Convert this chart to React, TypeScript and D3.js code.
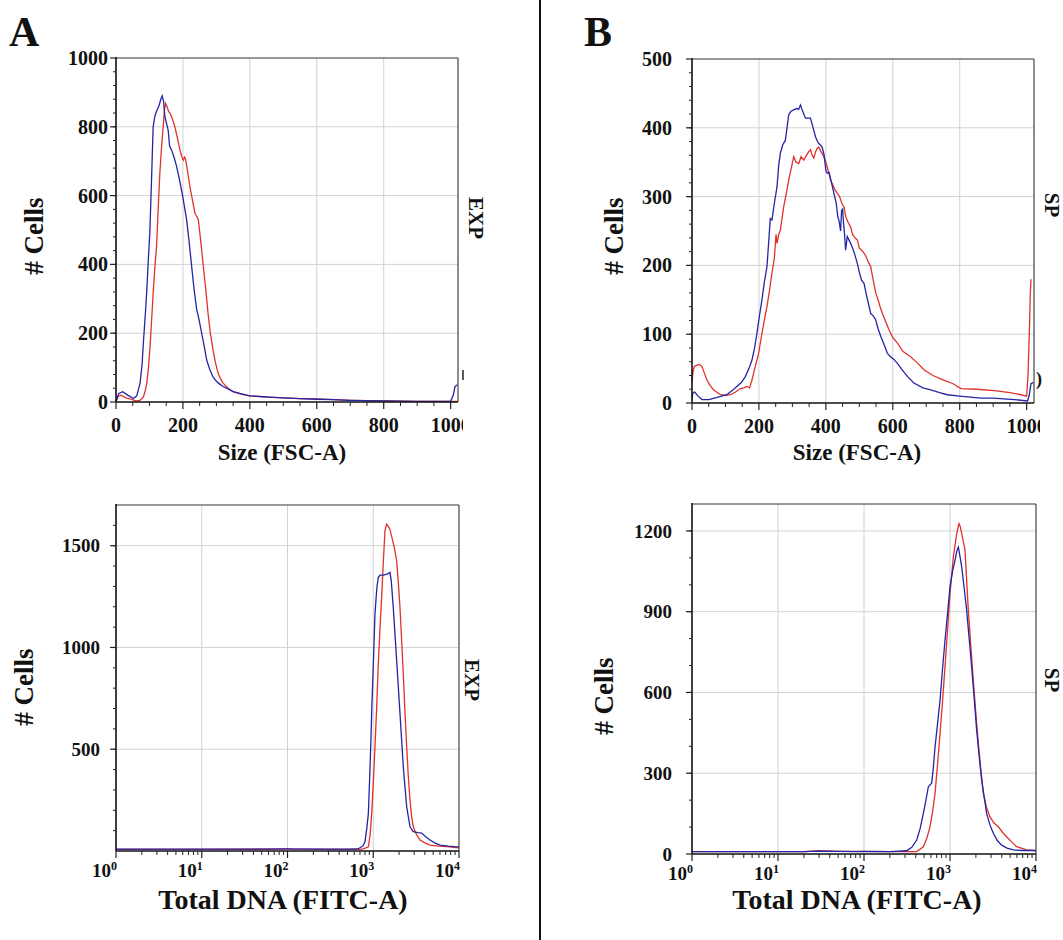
import React from "react";
import * as d3 from "d3";

// ---------- data ----------
type Pt = [number, number];

const sizeTicks = [0, 200, 400, 600, 800, 1000];
const sizeTickLabels = ["0", "200", "400", "600", "800", "1000"];
const logTicks = [1, 10, 100, 1000, 10000];
const logTickExp = ["0", "1", "2", "3", "4"];

const yTicksSizeA = [0, 200, 400, 600, 800, 1000];
const yTicksSizeB = [0, 100, 200, 300, 400, 500];
const yTicksDnaA = [500, 1000, 1500];
const yGridDnaA = [500, 1000, 1500];
const yTicksDnaB = [0, 300, 600, 900, 1200];

const expSizeBlue: Pt[] = [
  [0, 2], [8, 25], [20, 30], [35, 20], [52, 10], [62, 18], [72, 55], [78, 110], [82, 175], [88, 260],
  [92, 325], [97, 420], [101, 490], [106, 640], [111, 800], [116, 830], [121, 845], [128, 860], [134, 880],
  [138, 890], [142, 875], [146, 830], [151, 810], [156, 790], [160, 745], [167, 730], [174, 710], [181, 685],
  [190, 645], [199, 600], [205, 565], [211, 530], [218, 470], [226, 395], [233, 330], [241, 270], [248, 240],
  [256, 200], [263, 165], [271, 122], [280, 95], [290, 73], [300, 60], [310, 52], [320, 45], [335, 38],
  [350, 30], [370, 25], [400, 18], [430, 16], [460, 14], [500, 12], [550, 10], [600, 8], [650, 7], [700, 5],
  [750, 4], [800, 3], [900, 2], [1000, 2], [1008, 20], [1013, 45], [1020, 50],
];
const expSizeRed: Pt[] = [
  [0, 2], [8, 18], [15, 20], [30, 12], [45, 8], [60, 3], [72, 5], [82, 15], [88, 35], [92, 55], [97, 100],
  [101, 150], [106, 230], [111, 316], [116, 390], [121, 450], [126, 560], [131, 665], [136, 740], [141, 800],
  [145, 850], [148, 868], [152, 860], [157, 845], [161, 840], [168, 825], [176, 800], [183, 770], [191, 733],
  [196, 715], [201, 703], [205, 712], [208, 705], [214, 670], [221, 625], [228, 590], [236, 548], [241, 540],
  [246, 530], [253, 470], [261, 393], [268, 330], [275, 258], [282, 200], [290, 151], [297, 115], [305, 84],
  [312, 68], [320, 55], [335, 40], [350, 30], [375, 22], [400, 18], [450, 14], [500, 12], [550, 10], [600, 9],
  [650, 7], [700, 5], [800, 3], [900, 2], [1000, 2], [1020, 2],
];
const spSizeBlue: Pt[] = [
  [0, 8], [3, 15], [8, 16], [18, 10], [30, 5], [50, 5], [75, 8], [104, 12], [120, 18], [134, 24], [148, 30],
  [159, 38], [170, 50], [179, 62], [187, 80], [194, 101], [201, 125], [209, 150], [216, 175], [224, 198],
  [230, 240], [234, 268], [239, 266], [246, 290], [254, 314], [259, 345], [264, 363], [271, 375], [279, 382],
  [284, 400], [289, 419], [296, 424], [304, 426], [312, 428], [319, 427], [324, 433], [330, 425], [339, 414],
  [347, 414], [354, 414], [362, 400], [369, 387], [375, 380], [379, 377], [384, 375], [389, 372], [395, 360],
  [400, 338], [404, 334], [410, 335], [417, 320], [424, 305], [431, 290], [436, 270], [439, 266], [444, 250],
  [447, 280], [450, 282], [453, 260], [456, 245], [459, 222], [464, 242], [470, 236], [474, 232], [480, 225],
  [487, 215], [494, 203], [500, 190], [507, 178], [514, 174], [520, 160], [527, 145], [534, 130], [541, 127],
  [549, 121], [556, 108], [564, 97], [574, 85], [584, 72], [594, 67], [604, 63], [615, 57], [628, 48],
  [645, 38], [663, 29], [690, 22], [713, 19], [740, 15], [763, 12], [800, 10], [863, 7], [900, 7], [963, 5],
  [1003, 3], [1008, 12], [1013, 28], [1020, 30],
];
const spSizeRed: Pt[] = [
  [0, 31], [3, 45], [7, 53], [15, 55], [22, 56], [30, 53], [38, 42], [45, 33], [55, 25], [65, 19], [85, 12],
  [100, 11], [115, 12], [130, 16], [145, 21], [155, 22], [164, 24], [172, 22], [179, 33], [189, 53], [199, 72],
  [209, 101], [216, 120], [224, 140], [232, 165], [239, 189], [246, 210], [251, 245], [254, 232], [259, 245],
  [264, 251], [269, 268], [274, 285], [282, 305], [289, 324], [296, 340], [304, 358], [311, 350], [319, 348],
  [326, 358], [334, 353], [342, 360], [350, 366], [354, 368], [359, 360], [364, 356], [369, 365], [374, 370],
  [379, 372], [386, 365], [394, 358], [400, 350], [407, 338], [414, 324], [420, 318], [427, 310], [434, 305],
  [441, 300], [448, 290], [454, 285], [460, 270], [467, 262], [474, 256], [480, 245], [487, 240], [494, 237],
  [500, 225], [507, 222], [514, 218], [520, 213], [527, 205], [534, 198], [541, 180], [549, 160], [556, 150],
  [562, 140], [569, 130], [579, 118], [589, 106], [600, 95], [614, 87], [630, 75], [654, 67], [674, 58],
  [694, 48], [720, 40], [754, 33], [780, 28], [804, 21], [850, 20], [904, 18], [950, 15], [983, 12],
  [1000, 10], [1004, 40], [1008, 100], [1011, 160], [1013, 180],
];
const expDnaBlue: Pt[] = [
  [1, 9], [10, 9], [100, 10], [300, 9], [500, 9], [663, 10], [760, 25], [802, 46], [840, 110], [877, 185],
  [905, 340], [934, 511], [965, 720], [1000, 903], [1047, 1165], [1100, 1290], [1145, 1345], [1198, 1355],
  [1310, 1355], [1450, 1360], [1566, 1369], [1620, 1330], [1712, 1197], [1875, 936], [2050, 676], [2240, 413],
  [2455, 217], [2684, 119], [2933, 95], [3300, 90], [3672, 88], [4100, 70], [4590, 54], [5200, 40], [6000, 29],
  [7500, 24], [8970, 21], [10000, 20],
];
const expDnaRed: Pt[] = [
  [1, 8], [10, 8], [90, 9], [100, 12], [110, 9], [300, 8], [700, 8], [766, 10], [877, 21], [920, 80],
  [959, 185], [1000, 330], [1047, 511], [1100, 720], [1145, 920], [1200, 1100], [1253, 1247], [1310, 1420],
  [1370, 1574], [1433, 1606], [1500, 1595], [1566, 1580], [1686, 1525], [1780, 1480], [1875, 1426],
  [1960, 1320], [2050, 1197], [2140, 1040], [2240, 871], [2340, 690], [2455, 511], [2560, 370], [2684, 250],
  [2800, 170], [2933, 119], [3200, 80], [3510, 54], [4000, 40], [4590, 29], [5800, 24], [7180, 21], [10000, 15],
];
const spDnaBlue: Pt[] = [
  [1, 9], [20, 9], [30, 11], [50, 10], [80, 9], [100, 10], [200, 9], [313, 12], [360, 25], [410, 52],
  [450, 95], [490, 151], [525, 200], [560, 250], [612, 263], [640, 320], [670, 398], [720, 490], [766, 571],
  [820, 690], [875, 794], [940, 900], [1000, 992], [1070, 1050], [1143, 1091], [1200, 1125], [1250, 1140],
  [1300, 1110], [1368, 1066], [1460, 990], [1563, 905], [1670, 800], [1786, 695], [1910, 580], [2042, 460],
  [2190, 360], [2333, 275], [2500, 210], [2667, 151], [2900, 110], [3190, 77], [3550, 50], [3990, 33],
  [4600, 22], [5450, 15], [7000, 13], [10000, 13],
];
const spDnaRed: Pt[] = [
  [1, 9], [20, 9], [30, 12], [50, 10], [100, 10], [200, 9], [410, 9], [490, 27], [540, 60], [585, 101],
  [630, 160], [670, 225], [715, 330], [766, 448], [820, 570], [875, 695], [940, 840], [1000, 967],
  [1094, 1103], [1196, 1190], [1273, 1227], [1320, 1215], [1368, 1190], [1430, 1160], [1495, 1128],
  [1560, 1020], [1633, 905], [1750, 770], [1866, 645], [2000, 520], [2134, 411], [2290, 310], [2443, 225],
  [2650, 175], [2917, 138], [3250, 115], [3648, 101], [4100, 80], [4560, 64], [5200, 45], [5960, 27],
  [7790, 15], [10000, 12],
];

// ---------- styles ----------
const FONT = "'Liberation Serif', 'Times New Roman', serif";
const BLUE = "#2424a6";
const RED = "#e0312c";
const GRID = "#d2d2d2";

type PanelProps = {
  id: string;
  kind: "lin" | "log";
  x0: number; x1: number; y0: number; y1: number;
  xMax: number; yMax: number;
  yTicks: number[]; yGrid: number[]; yMinorStep: number;
  yLabelRight: number;
  blue: Pt[]; red: Pt[];
  xTitle: string; xTitleX: number; xTitleY: number; xTitleSize: number;
  cellsX: number; cellsY: number;
  sideText: string; sideX: number; sideY: number;
  clipRight: number;
};

function Panel(p: PanelProps) {
  const x: any =
    p.kind === "lin"
      ? d3.scaleLinear().domain([0, p.xMax]).range([p.x0, p.x1])
      : d3.scaleLog().domain([1, 10000]).range([p.x0, p.x1]);
  const y = d3.scaleLinear().domain([0, p.yMax]).range([p.y0, p.y1]);
  const line = d3
    .line<Pt>()
    .x((d) => x(d[0]))
    .y((d) => y(d[1]));

  const xMajor = p.kind === "lin" ? sizeTicks : logTicks;
  const xGrid = p.kind === "lin" ? [200, 400, 600, 800] : [10, 100, 1000];
  const xMinor: number[] = [];
  if (p.kind === "lin") {
    for (let v = 50; v < p.xMax; v += 50) if (v % 200 !== 0) xMinor.push(v);
  } else {
    for (let e = 0; e < 4; e++) for (let k = 2; k <= 9; k++) xMinor.push(k * Math.pow(10, e));
  }
  const yMinor: number[] = [];
  for (let v = p.yMinorStep; v < p.yMax; v += p.yMinorStep) yMinor.push(v);

  return (
    <g>
      <defs>
        <clipPath id={`clip-${p.id}`}>
          <rect x={0} y={p.y0 + 2} width={p.clipRight} height={60} />
        </clipPath>
      </defs>
      {xGrid.map((v) => (
        <line key={`gx${v}`} x1={x(v)} x2={x(v)} y1={p.y1} y2={p.y0} stroke={GRID} strokeWidth={1} />
      ))}
      {p.yGrid.map((v) => (
        <line key={`gy${v}`} x1={p.x0} x2={p.x1} y1={y(v)} y2={y(v)} stroke={GRID} strokeWidth={1} />
      ))}
      <line x1={p.x0} x2={p.x1} y1={p.y1} y2={p.y1} stroke="#333" strokeWidth={1.2} />
      <line x1={p.x1} x2={p.x1} y1={p.y1} y2={p.y0} stroke="#444" strokeWidth={1.2} />
      <path d={line(p.red) || ""} fill="none" stroke={RED} strokeWidth={1.3} />
      <path d={line(p.blue) || ""} fill="none" stroke={BLUE} strokeWidth={1.3} />
      <line x1={p.x0} x2={p.x0} y1={p.y1 - 1} y2={p.y0} stroke="#111" strokeWidth={1.6} />
      <line x1={p.x0} x2={p.x1} y1={p.y0} y2={p.y0} stroke="#111" strokeWidth={1.6} />
      {xMinor.map((v) => (
        <line key={`xm${v}`} x1={x(v)} x2={x(v)} y1={p.y0} y2={p.y0 + 4} stroke="#222" strokeWidth={1} />
      ))}
      {xMajor.map((v) => (
        <line key={`xM${v}`} x1={x(v)} x2={x(v)} y1={p.y0} y2={p.y0 + 7} stroke="#222" strokeWidth={1.2} />
      ))}
      {yMinor.map((v) => (
        <line key={`ym${v}`} x1={p.x0 - 3} x2={p.x0} y1={y(v)} y2={y(v)} stroke="#222" strokeWidth={1} />
      ))}
      {p.yTicks.map((v) => (
        <line key={`yM${v}`} x1={p.x0 - 6} x2={p.x0} y1={y(v)} y2={y(v)} stroke="#222" strokeWidth={1.2} />
      ))}
      {p.yTicks.map((v) => (
        <text
          key={`yl${v}`}
          x={p.yLabelRight}
          y={y(v)}
          dy="0.35em"
          textAnchor="end"
          fontFamily={FONT}
          fontWeight="bold"
          fontSize={p.kind === "lin" ? 20 : 19}
          fill="#111"
        >
          {v}
        </text>
      ))}
      {p.kind === "lin" ? (
        <g clipPath={`url(#clip-${p.id})`}>
          {sizeTicks.map((v, i) => (
            <text
              key={`xl${v}`}
              x={x(v)}
              y={p.y0 + 30}
              textAnchor="middle"
              fontFamily={FONT}
              fontWeight="bold"
              fontSize={20}
              fill="#111"
            >
              {sizeTickLabels[i]}
            </text>
          ))}
        </g>
      ) : (
        logTicks.map((v, i) => (
          <g key={`xl${v}`}>
            <text
              x={x(v) - 5}
              y={p.y0 + 26}
              textAnchor="end"
              fontFamily={FONT}
              fontWeight="bold"
              fontSize={19}
              fill="#111"
            >
              10
            </text>
            <text
              x={x(v) - 5}
              y={p.y0 + 19}
              textAnchor="start"
              fontFamily={FONT}
              fontWeight="bold"
              fontSize={12}
              fill="#111"
            >
              {logTickExp[i]}
            </text>
          </g>
        ))
      )}
      <text
        x={p.xTitleX}
        y={p.xTitleY}
        textAnchor="middle"
        fontFamily={FONT}
        fontWeight="bold"
        fontSize={p.xTitleSize}
        fill="#111"
      >
        {p.xTitle}
      </text>
      <text
        x={p.cellsX}
        y={p.cellsY}
        transform={`rotate(-90, ${p.cellsX}, ${p.cellsY})`}
        textAnchor="middle"
        fontFamily={FONT}
        fontWeight="bold"
        fontSize={27}
        fill="#111"
      >
        # Cells
      </text>
      <text
        x={p.sideX}
        y={p.sideY}
        transform={`rotate(90, ${p.sideX}, ${p.sideY})`}
        textAnchor="middle"
        fontFamily={FONT}
        fontWeight="bold"
        fontSize={21}
        fill="#111"
      >
        {p.sideText}
      </text>
    </g>
  );
}

export default function App() {
  return (
    <div style={{ position: "absolute", left: 0, top: 0 }}>
      <svg width={1063} height={940} style={{ display: "block", background: "#fff" }}>
        <rect x={0} y={0} width={1063} height={940} fill="#fff" />
        <text x={9} y={46} fontFamily={FONT} fontWeight="bold" fontSize={42} fill="#111">A</text>
        <text x={584} y={46} fontFamily={FONT} fontWeight="bold" fontSize={42} fill="#111">B</text>
        <line x1={540} x2={540} y1={0} y2={940} stroke="#111" strokeWidth={2} />

        <Panel
          id="a1" kind="lin" x0={116} x1={458} y0={402} y1={58} xMax={1022} yMax={1000}
          yTicks={yTicksSizeA} yGrid={[200, 400, 600, 800]} yMinorStep={40} yLabelRight={108}
          blue={expSizeBlue} red={expSizeRed}
          xTitle="Size (FSC-A)" xTitleX={282} xTitleY={460} xTitleSize={23}
          cellsX={43} cellsY={236} sideText="EXP" sideX={469} sideY={218} clipRight={463}
        />
        <Panel
          id="b1" kind="lin" x0={692} x1={1034} y0={403} y1={59} xMax={1022} yMax={500}
          yTicks={yTicksSizeB} yGrid={[100, 200, 300, 400]} yMinorStep={20} yLabelRight={672}
          blue={spSizeBlue} red={spSizeRed}
          xTitle="Size (FSC-A)" xTitleX={857} xTitleY={460} xTitleSize={23}
          cellsX={623} cellsY={236} sideText="SP" sideX={1045} sideY={205} clipRight={1040}
        />
        <Panel
          id="a2" kind="log" x0={116} x1={459} y0={851} y1={505} xMax={10000} yMax={1700}
          yTicks={yTicksDnaA} yGrid={yGridDnaA} yMinorStep={100} yLabelRight={100}
          blue={expDnaBlue} red={expDnaRed}
          xTitle="Total DNA (FITC-A)" xTitleX={283} xTitleY={909} xTitleSize={28}
          cellsX={33} cellsY={687} sideText="EXP" sideX={465} sideY={680} clipRight={1063}
        />
        <Panel
          id="b2" kind="log" x0={692} x1={1036} y0={854} y1={504} xMax={10000} yMax={1300}
          yTicks={yTicksDnaB} yGrid={[300, 600, 900, 1200]} yMinorStep={100} yLabelRight={672}
          blue={spDnaBlue} red={spDnaRed}
          xTitle="Total DNA (FITC-A)" xTitleX={857} xTitleY={909} xTitleSize={28}
          cellsX={613} cellsY={696} sideText="SP" sideX={1045} sideY={680} clipRight={1063}
        />
        <line x1={463} x2={463} y1={370} y2={380} stroke="#222" strokeWidth={1.5} />
        <text x={1036} y={385} fontFamily={FONT} fontWeight="bold" fontSize={18} fill="#111">)</text>
      </svg>
    </div>
  );
}
